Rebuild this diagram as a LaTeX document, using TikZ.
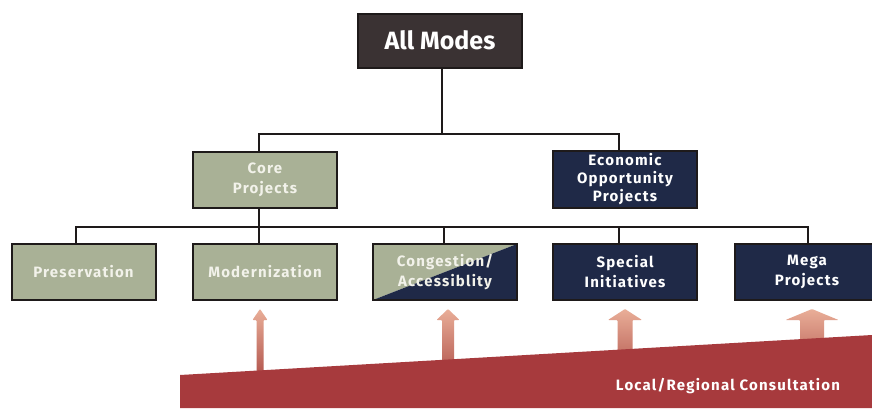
\documentclass[tikz,border=0pt]{standalone}
\usepackage{fontspec}
\setmainfont{Fira Sans}
\newfontfamily\labelfont[LetterSpace=8]{Fira Sans}
\usetikzlibrary{calc}

\definecolor{modesbox}{HTML}{3A3233}
\definecolor{sage}{HTML}{A9B196}
\definecolor{navy}{HTML}{1F2947}
\definecolor{rampred}{HTML}{A73A3D}
\definecolor{arrowtop}{HTML}{E9AE98}
\definecolor{arrowbot}{HTML}{AA4842}
\definecolor{wirecol}{HTML}{1E1A1A}
\definecolor{paletext}{HTML}{F2F2EA}

\tikzset{
  box/.style={draw=wirecol, line width=2pt, minimum width=144pt, minimum height=56pt,
    inner sep=0pt, align=center, text=white,
    font=\labelfont\bfseries\fontsize{15}{20}\selectfont},
  corebox/.style={box, fill=sage, text=paletext},
  econbox/.style={box, fill=navy},
  splitbox/.style={box, text=paletext, path picture={
      \fill[sage] (path picture bounding box.south west) -- (path picture bounding box.north west)
        -- (path picture bounding box.north east) -- cycle;
      \fill[navy] (path picture bounding box.south west) -- (path picture bounding box.north east)
        -- (path picture bounding box.south east) -- cycle;}},
  wire/.style={draw=wirecol, line width=2pt},
  upflow/.style={top color=arrowtop, bottom color=arrowbot},
}

\begin{document}
\begin{tikzpicture}[x=1pt, y=-1pt]
  \useasboundingbox (0,0) rectangle (872,408);
  \fill[white] (0,0) rectangle (872,408);

  % hierarchy boxes
  \node[box, fill=modesbox, minimum width=164pt, minimum height=54pt,
        font=\bfseries\fontsize{25}{30}\selectfont] (allmodes) at (440,40.5) {All Modes};
  \node[corebox] (core) at (265,179.5) {Core\\Projects};
  \node[econbox, minimum height=57pt, font=\labelfont\bfseries\fontsize{15}{18}\selectfont]
        (econ) at (625,179.5) {Economic\\Opportunity\\Projects};

  \node[corebox]  (pres)    at (83.5,272) {Preservation};
  \node[corebox]  (modern)  at (265,272)  {Modernization};
  \node[splitbox] (cong)    at (445,272)  {Congestion/\\Accessiblity};
  \node[econbox]  (special) at (625,272)  {Special\\Initiatives};
  \node[econbox]  (mega)    at (807,272)  {Mega\\Projects};

  % connector buses
  \coordinate (bus1) at (0,134);
  \coordinate (bus2) at (0,227);
  \draw[wire] ([xshift=2pt]allmodes.south) -- ([xshift=2pt]allmodes.south |- bus1);
  \draw[wire] ([xshift=-6pt]core.north) -- ([xshift=-6pt]core.north |- bus1)
              -| ([xshift=-6pt]econ.north);
  \draw[wire] ([xshift=-6pt]core.south) -- ([xshift=-6pt]core.south |- bus2);
  \draw[wire] ([xshift=-8pt]pres.north) -- ([xshift=-8pt]pres.north |- bus2)
              -| ([xshift=1pt]mega.north);
  \foreach \n/\d in {modern/-6, cong/-1, special/-6}
    \draw[wire] ([xshift=\d pt]\n.north) -- ([xshift=\d pt]\n.north |- bus2);

  % rising arrows, growing in width
  \foreach \c/\s/\h in {260/3.5/7.5, 448/6/11.5, 625/7.5/17, 812/12/26.5}
    \shade[upflow, rounded corners=0.8pt]
      (\c-\s,385) -- (\c-\s,320) -- (\c-\h,320) -- (\c,309) -- (\c+\h,320)
      -- (\c+\s,320) -- (\c+\s,385) -- cycle;

  % consultation ramp
  \fill[rampred] (180,375) -- (872,335) -- (872,408) -- (180,408) -- cycle;
  \node[text=white, font=\labelfont\bfseries\fontsize{15}{17}\selectfont]
    (consult) at (728,386) {Local/Regional Consultation};
\end{tikzpicture}
\end{document}
